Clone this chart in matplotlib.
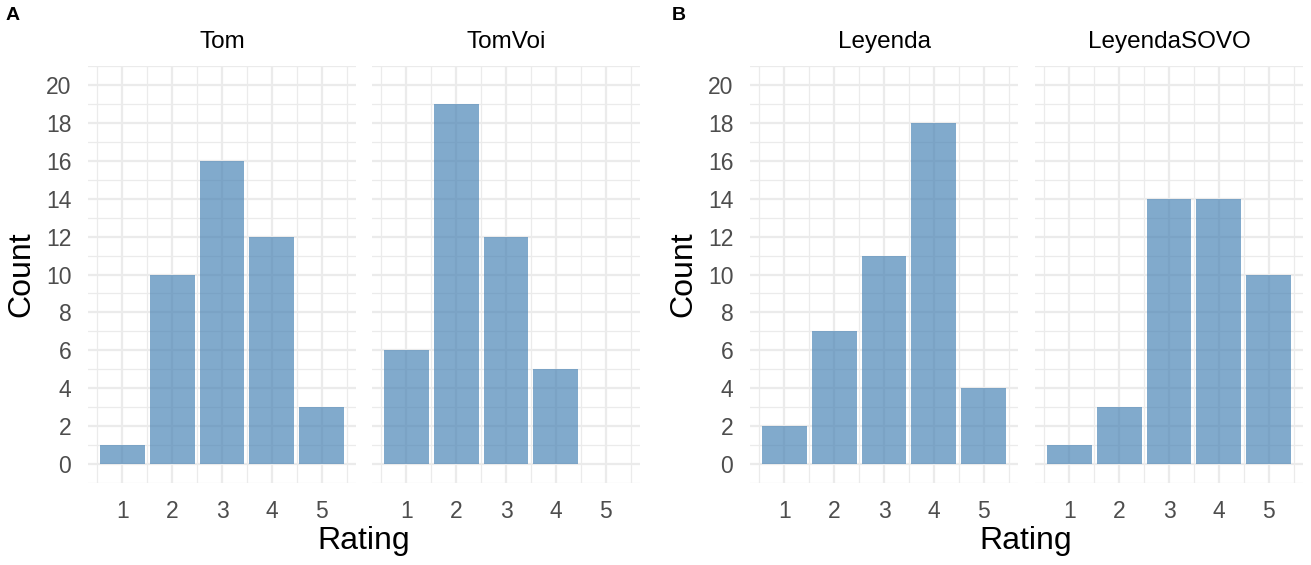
import numpy as np
import matplotlib
matplotlib.use("Agg")
import matplotlib.pyplot as plt
from matplotlib.ticker import MultipleLocator

plt.rcParams['font.family'] = ['Liberation Sans', 'DejaVu Sans']

ratings = [1, 2, 3, 4, 5]
tom = [1, 10, 16, 12, 3]
tom_voi = [6, 19, 12, 5, 0]
leyenda = [2, 7, 11, 18, 4]
leyenda_sovo = [1, 3, 14, 14, 10]

W, H = 1311, 565
fig = plt.figure(figsize=(W / 100, H / 100), dpi=100)

BAR = '#4682B4'
GRID = '#EBEBEB'
TICK = '#4D4D4D'


def px_axes(x0, x1, y0=66, y1=483):
    return fig.add_axes([x0 / W, (H - y1) / H, (x1 - x0) / W, (y1 - y0) / H])


def facet(ax, counts, title, show_y):
    ax.set_xlim(0.31, 5.69)
    ax.set_ylim(-1, 21)
    ax.xaxis.set_major_locator(MultipleLocator(1))
    ax.xaxis.set_minor_locator(MultipleLocator(0.5))
    ax.yaxis.set_major_locator(MultipleLocator(2))
    ax.yaxis.set_minor_locator(MultipleLocator(1))
    ax.grid(which='major', color=GRID, lw=1.6)
    ax.grid(which='minor', color=GRID, lw=0.9)
    ax.set_axisbelow(True)
    ax.bar(ratings, counts, width=0.9, color=BAR, alpha=0.68, lw=0)
    for s in ax.spines.values():
        s.set_visible(False)
    ax.tick_params(which='both', length=0)
    ax.tick_params(axis='x', labelsize=16.5, labelcolor=TICK, pad=12)
    ax.tick_params(axis='y', labelsize=16.5, labelcolor=TICK, pad=12)
    ax.set_xticks(ratings)
    ax.set_yticks(range(0, 21, 2))
    if not show_y:
        ax.set_yticklabels([])
    ax.set_title(title, fontsize=17.5, pad=13)


a1 = px_axes(88, 356)
a2 = px_axes(372, 640)
b1 = px_axes(750, 1018)
b2 = px_axes(1035, 1303)

facet(a1, tom, 'Tom', True)
facet(a2, tom_voi, 'TomVoi', False)
facet(b1, leyenda, 'Leyenda', True)
facet(b2, leyenda_sovo, 'LeyendaSOVO', False)

for x in (364, 1026):
    fig.text(x / W, 1 - 541 / H, 'Rating', fontsize=23, ha='center', va='center')
for x in (21, 683):
    fig.text(x / W, 1 - 274 / H, 'Count', fontsize=23, ha='center', va='center', rotation=90)

fig.text(13 / W, 1 - 16 / H, 'A', fontsize=14, fontweight='bold', ha='center', va='center')
fig.text(679 / W, 1 - 16 / H, 'B', fontsize=14, fontweight='bold', ha='center', va='center')

fig.savefig('out.png', dpi=100)
